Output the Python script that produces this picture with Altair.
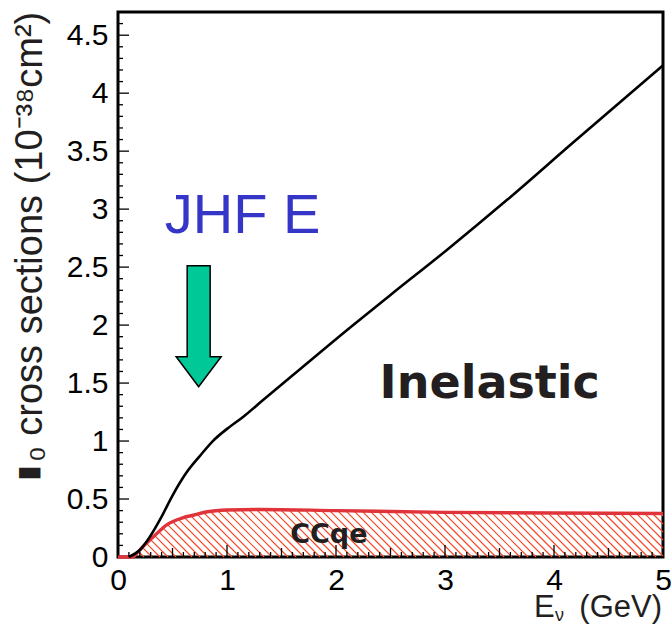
import altair as alt
import numpy as np
import pandas as pd

# Inelastic neutrino cross section vs. neutrino energy (10^-38 cm^2)
e_inelastic = [0.10, 0.20, 0.29, 0.39, 0.50, 0.63, 0.75, 0.87, 1.00, 1.15, 1.32, 1.60,
               2.13, 2.50, 3.02, 3.57, 4.17, 5.00]
xs_inelastic = [0.00, 0.06, 0.17, 0.33, 0.53, 0.73, 0.87, 1.00, 1.105, 1.21, 1.345, 1.565,
                1.98, 2.26, 2.65, 3.08, 3.57, 4.24]

# Charged-current quasi-elastic cross section
e_ccqe = [0.00, 0.13, 0.18, 0.23, 0.32, 0.45, 0.60, 0.69, 0.82, 1.00, 1.30, 2.00, 3.00, 4.00, 5.00]
xs_ccqe = [0.00, 0.00, 0.04, 0.09, 0.17, 0.28, 0.34, 0.36, 0.39, 0.405, 0.41, 0.40, 0.385, 0.38, 0.375]

# Axis labels
x_labels = [0, 1, 2, 3, 4, 5]
y_labels = [0, 0.5, 1, 1.5, 2, 2.5, 3, 3.5, 4, 4.5]

# Annotations
jhf_energy, jhf_arrow_xs = 0.74, 1.99
label_text = ["JHF E", "Inelastic", "CCqe"]
label_x = [0.43, 2.40, 1.58]
label_y = [2.79, 1.37, 0.12]

W, H = 545, 545
X_MAX, Y_MAX = 5.0, 4.7
kx, ky = W / X_MAX, H / Y_MAX

xsc = alt.Scale(domain=[0, X_MAX], nice=False, zero=False)
ysc = alt.Scale(domain=[0, Y_MAX], nice=False, zero=False)


def qx(field, **kw):
    return alt.X(field, type="quantitative", scale=xsc, **kw)


def qy(field, **kw):
    return alt.Y(field, type="quantitative", scale=ysc, **kw)


# Diagonal hatching under the CCqe curve, 45 degrees on screen
segments = []
t = np.arange(0, 120, 0.05)
for xb in np.arange(2.0, W + 60, 8.0):
    xp = xb - t
    yv = t / ky
    xv = xp / kx
    top = np.interp(np.clip(xv, 0, X_MAX), e_ccqe, xs_ccqe)
    ok = (xp >= 0) & (xp <= W) & (yv <= top)
    if ok.sum() < 3:
        continue
    idx = np.where(ok)[0]
    i0, i1 = idx[0], idx[-1]
    segments.append({"x": xv[i0], "y": yv[i0], "x2": xv[i1], "y2": yv[i1]})
hatch_df = pd.DataFrame(segments)

inel_df = pd.DataFrame({"E": e_inelastic, "xs": xs_inelastic})
ccqe_df = pd.DataFrame({"E": e_ccqe, "xs": xs_ccqe})

hatch = alt.Chart(hatch_df).mark_rule(color="#f04a2a", strokeWidth=1.2).encode(
    x=qx("x"), y=qy("y"), x2="x2", y2="y2"
)

ccqe_line = alt.Chart(ccqe_df).mark_line(
    color="#e0333a", strokeWidth=3.4, interpolate="monotone"
).encode(x=qx("E"), y=qy("xs"))

axis_style = dict(format="~g", ticks=False, domain=False, grid=False,
                  labelFont="Liberation Sans", labelFontSize=30, labelColor="black",
                  labelFlush=False, labelOverlap=False, title=None)

inel_line = alt.Chart(inel_df).mark_line(
    color="black", strokeWidth=2.6, interpolate="monotone"
).encode(
    x=qx("E", axis=alt.Axis(values=x_labels, labelPadding=8, **axis_style)),
    y=qy("xs", axis=alt.Axis(values=y_labels, labelPadding=10, **axis_style)),
)

# Inward tick marks
x_major = pd.DataFrame({"v": [1, 2, 3, 4]})
x_half = pd.DataFrame({"v": [0.5, 1.5, 2.5, 3.5, 4.5]})
x_minor = pd.DataFrame({"v": [round(i * 0.1, 1) for i in range(1, 50) if i % 5]})
y_major = pd.DataFrame({"v": [0.5, 1, 1.5, 2, 2.5, 3, 3.5, 4, 4.5]})
y_minor = pd.DataFrame({"v": [round(i * 0.1, 1) for i in range(1, 47) if i % 5]})

tick_layers = []
for df, ln in [(x_major, 12), (x_half, 9), (x_minor, 5)]:
    tick_layers.append(alt.Chart(df).mark_rule(color="black", strokeWidth=1.3).encode(
        x=qx("v"), y=alt.value(H), y2=alt.value(H - ln)))
for df, ln in [(y_major, 11), (y_minor, 5)]:
    tick_layers.append(alt.Chart(df).mark_rule(color="black", strokeWidth=1.3).encode(
        y=qy("v"), x=alt.value(0), x2=alt.value(ln)))

# Green arrow marking the beam energy
arrow_path = "M-0.19,-1 L0.19,-1 L0.19,0.504 L0.372,0.504 L0,1 L-0.372,0.504 L-0.19,0.504 Z"
arrow = alt.Chart(pd.DataFrame({"E": [jhf_energy], "xs": [jhf_arrow_xs]})).mark_point(
    shape=arrow_path, size=121 ** 2, filled=True, fill="#00c896", stroke="black",
    strokeWidth=1.5, opacity=1
).encode(x=qx("E"), y=qy("xs"))

labels_df = pd.DataFrame({"x": label_x, "y": label_y, "t": label_text})
styles = [
    dict(font="Liberation Sans", fontSize=56, color="#3535c8", fontWeight="normal"),
    dict(font="DejaVu Sans", fontSize=46, color="#231f20", fontWeight="bold"),
    dict(font="DejaVu Sans", fontSize=27, color="#231f20", fontWeight="bold"),
]
label_layers = []
for i, st in enumerate(styles):
    label_layers.append(
        alt.Chart(labels_df.iloc[[i]]).mark_text(align="left", baseline="alphabetic", **st)
        .encode(x=qx("x"), y=qy("y"), text="t:N")
    )

# Axis titles
one = pd.DataFrame({"a": [0]})
ytitle_box = alt.Chart(one).mark_text(
    text="▮", font="DejaVu Sans", fontSize=28, angle=270, align="center", baseline="middle",
    color="#231f20"
).encode(x=alt.value(-89), y=alt.value(461))
ytitle = alt.Chart(one).mark_text(
    text="₀ cross sections (10⁻³⁸cm²)", font="Liberation Sans", fontSize=38, angle=270,
    align="left", baseline="alphabetic", color="#231f20"
).encode(x=alt.value(-76), y=alt.value(450))
xtitle_e = alt.Chart(one).mark_text(
    text="E", font="Liberation Sans", fontSize=31, align="left", baseline="alphabetic", color="#231f20"
).encode(x=alt.value(416), y=alt.value(605))
xtitle_nu = alt.Chart(one).mark_text(
    text="ν", font="Liberation Sans", fontSize=18, align="left", baseline="alphabetic", color="#231f20"
).encode(x=alt.value(437), y=alt.value(609))
xtitle_unit = alt.Chart(one).mark_text(
    text="(GeV)", font="Liberation Sans", fontSize=31, align="right", baseline="alphabetic", color="#231f20"
).encode(x=alt.value(544), y=alt.value(605))

chart = alt.layer(
    hatch, ccqe_line, inel_line, *tick_layers, arrow, *label_layers,
    ytitle_box, ytitle, xtitle_e, xtitle_nu, xtitle_unit
).properties(
    width=W, height=H,
    autosize=alt.AutoSizeParams(type="none"),
    padding={"left": 118, "top": 12, "right": 9, "bottom": 69},
    background="white",
).configure_view(stroke="black", strokeWidth=3)

chart.save("out.html", embed_options={"renderer": "svg", "actions": False})
